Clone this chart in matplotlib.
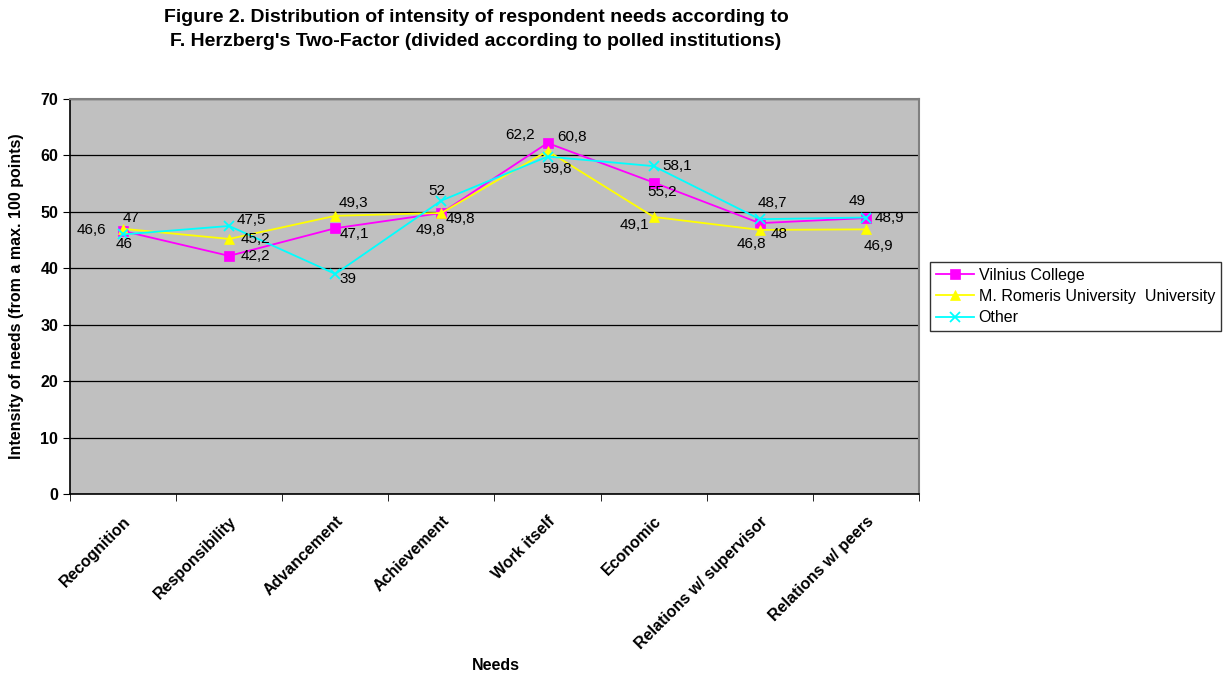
import matplotlib.pyplot as plt
import matplotlib.transforms as mtransforms
from matplotlib.ticker import MultipleLocator, FixedLocator

plt.rcParams['font.family'] = ['Liberation Sans', 'DejaVu Sans']

needs = ['Recognition', 'Responsibility', 'Advancement', 'Achievement',
         'Work itself', 'Economic', 'Relations w/ supervisor', 'Relations w/ peers']
vilnius = [46.6, 42.2, 47.1, 49.8, 62.2, 55.2, 48.0, 48.9]
romeris = [47.0, 45.2, 49.3, 49.8, 60.8, 49.1, 46.8, 46.9]
other = [46.0, 47.5, 39.0, 52.0, 59.8, 58.1, 48.7, 49.0]

# label offsets (points) for each data label
vil_off = [(-23, 1), (19, 0), (14, -4), (-8, -12), (-20, 6), (6, -7), (14, -8), (17, 0)]
rom_off = [(6, 8), (19, 0), (13, 9), (14, -4), (18, 10), (-14, -6), (-6, -10), (9, -12)]
oth_off = [(1, -7), (16, 4), (9, -4), (-3, 7), (7, -9), (17, 0), (9, 12), (-6, 12)]

fig = plt.figure(figsize=(12.3, 6.75), dpi=100)
ax = fig.add_axes([70 / 1230, 1 - 494 / 675, 849 / 1230, 395 / 675])
ax.set_facecolor('#c0c0c0')

x = list(range(len(needs)))
series = [
    ('Vilnius College', vilnius, '#ff00ff', 's', 7, vil_off),
    ('M. Romeris University  University', romeris, '#ffff00', '^', 7, rom_off),
    ('Other', other, '#00ffff', 'x', 7, oth_off),
]
for name, vals, col, mk, ms, offs in series:
    ax.plot(x, vals, color=col, marker=mk, markersize=ms, linewidth=1.3,
            markeredgewidth=1.3 if mk == 'x' else 0.5, markeredgecolor=col,
            label=name, zorder=3)
    for xi, v, (dx, dy) in zip(x, vals, offs):
        ax.annotate(f'{v:g}'.replace('.', ','), (xi, v), xytext=(dx, dy),
                    textcoords='offset points', ha='center', va='center',
                    fontsize=11, color='black', zorder=4)

ax.set_xlim(-0.5, len(needs) - 0.5)
ax.set_ylim(0, 70)
ax.yaxis.set_major_locator(MultipleLocator(10))
ax.grid(axis='y', color='black', linewidth=0.9, zorder=1)
ax.set_axisbelow(True)

ax.set_xticks(x)
ax.set_xticklabels(needs, rotation=45, ha='right', rotation_mode='anchor',
                   fontsize=11.5, fontweight='bold')
shift = mtransforms.ScaledTranslation(-6 / 72, 0, fig.dpi_scale_trans)
for lbl in ax.get_xticklabels():
    lbl.set_transform(lbl.get_transform() + shift)
ax.xaxis.set_minor_locator(FixedLocator([i + 0.5 for i in range(-1, len(needs))]))
ax.tick_params(axis='x', which='major', length=0, pad=14)
ax.tick_params(axis='x', which='minor', length=5, direction='out', color='black')
ax.tick_params(axis='y', length=5, direction='out', color='black', labelsize=11.5)
for lbl in ax.get_yticklabels():
    lbl.set_fontweight('bold')

for side in ['top', 'right']:
    ax.spines[side].set_color('#808080')
    ax.spines[side].set_linewidth(1.5)
for side in ['left', 'bottom']:
    ax.spines[side].set_color('black')
    ax.spines[side].set_linewidth(1.2)

ax.set_ylabel('Intensity of needs (from a max. 100 points)', fontsize=11.5,
              fontweight='bold', labelpad=12)
fig.text(496 / 1230, 1 - 666 / 675, 'Needs', ha='center', va='center',
         fontsize=11.5, fontweight='bold')

fig.text(476 / 1230, 1 - 18 / 675,
         'Figure 2. Distribution of intensity of respondent needs according to',
         ha='center', va='center', fontsize=14, fontweight='bold')
fig.text(476 / 1230, 1 - 42 / 675,
         "F. Herzberg's Two-Factor (divided according to polled institutions)",
         ha='center', va='center', fontsize=14, fontweight='bold')

leg = fig.legend(loc='upper left', bbox_to_anchor=(930 / 1230, 1 - 262 / 675),
                 fontsize=11.5, frameon=True, fancybox=False, borderpad=0.35,
                 labelspacing=0.4, handlelength=2.4, handletextpad=0.3,
                 borderaxespad=0)
leg.get_frame().set_edgecolor('black')
leg.get_frame().set_linewidth(1.0)

fig.savefig('out.png', dpi=100)
